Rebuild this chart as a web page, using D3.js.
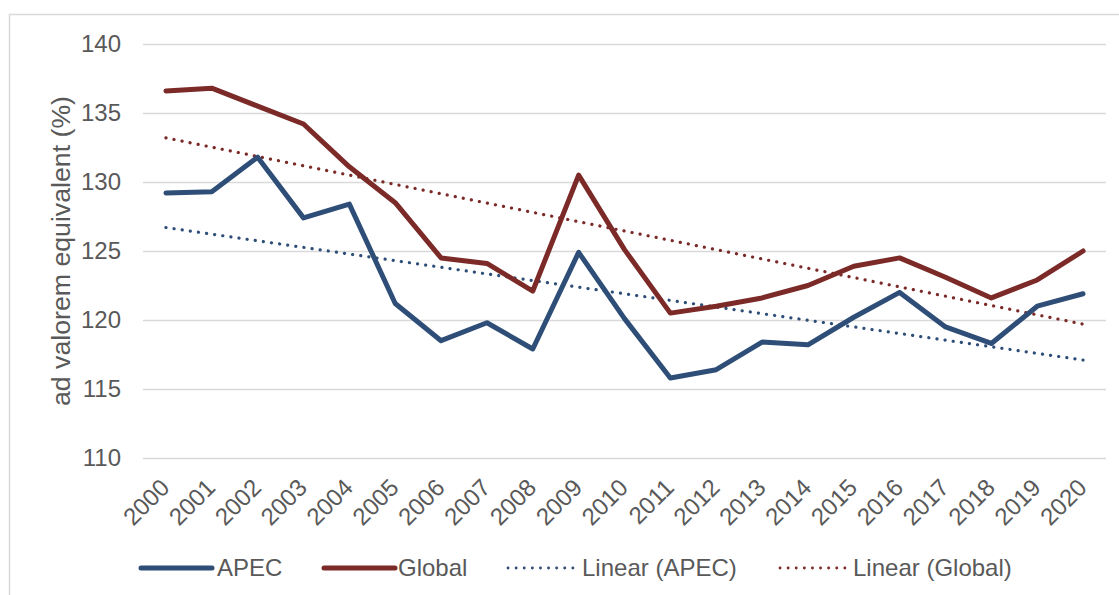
<!DOCTYPE html>
<html><head><meta charset="utf-8">
<script src="https://cdn.jsdelivr.net/npm/d3@7"></script>
<style>
html,body{margin:0;padding:0;background:#fff;}
svg{display:block;font-family:"Liberation Sans",Arial,sans-serif;}
</style></head>
<body><svg id="c" width="1119" height="595"></svg>
<script>
const years = ["2000","2001","2002","2003","2004","2005","2006","2007","2008","2009","2010","2011","2012","2013","2014","2015","2016","2017","2018","2019","2020"];
const apec = [129.2,129.3,131.8,127.4,128.4,121.2,118.5,119.8,117.9,124.9,120.1,115.8,116.4,118.4,118.2,120.2,122.0,119.5,118.3,121.0,121.9];
const global = [136.6,136.8,135.5,134.2,131.1,128.5,124.5,124.1,122.1,130.5,125.1,120.5,121.0,121.6,122.5,123.9,124.5,123.1,121.6,122.9,125.0];
// trendline end values (first year, last year)
const apecTrend = [126.7,117.1];
const globalTrend = [133.2,119.7];
const yTicks = [110,115,120,125,130,135,140];
const legendLabels = ["APEC","Global","Linear (APEC)","Linear (Global)"];

const svg = d3.select("#c");
const blue = "#2E4E77", red = "#7B2A28", txt = "#595959", grid = "#D9D9D9";
const pL = 143, pR = 1106, pT = 44, pB = 458;
const fam = "Liberation Sans, Arial, sans-serif";

svg.append("rect").attr("x",9.5).attr("y",14.5).attr("width",1130).attr("height",600)
  .attr("fill","none").attr("stroke",grid).attr("stroke-width",1.5);

const x = d3.scaleBand().domain(years).range([pL,pR]);
const y = d3.scaleLinear().domain([110,140]).range([pB,pT]);
const cx = d => x(d)+x.bandwidth()/2;

// grid
const ya = d3.axisLeft(y).tickValues(yTicks).tickSize(-(pR-pL)).tickPadding(22);
const gy = svg.append("g").attr("transform",`translate(${pL},0)`).call(ya);
gy.select(".domain").remove();
gy.selectAll(".tick line").attr("stroke",grid).attr("stroke-width",1.5);
gy.selectAll(".tick text").attr("fill",txt).attr("font-size",24).attr("font-family",fam);

// x axis labels
const xa = d3.axisBottom(x).tickSize(0).tickPadding(0);
const gx = svg.append("g").attr("transform",`translate(0,${pB})`).call(xa);
gx.select(".domain").remove();
gx.selectAll(".tick text").attr("fill",txt).attr("font-size",24)
  .attr("font-family",fam)
  .attr("text-anchor","end").attr("dy",0).attr("y",0)
  .attr("transform","translate(5,31) rotate(-45)");

// y title
svg.append("text").attr("transform","translate(70,251) rotate(-90)")
  .attr("text-anchor","middle").attr("fill",txt).attr("font-size",26.7)
  .text("ad valorem equivalent (%)");

const line = d3.line().x((d,i)=>cx(years[i])).y(d=>y(d));
const trendYears = [years[0], years[years.length-1]];
const tline = d3.line().x((d,i)=>cx(trendYears[i])).y(d=>y(d));

svg.append("path").datum(apecTrend).attr("d",tline).attr("fill","none").attr("stroke",blue)
  .attr("stroke-width",3.2).attr("stroke-linecap","round").attr("stroke-dasharray","0.1 8.1");
svg.append("path").datum(globalTrend).attr("d",tline).attr("fill","none").attr("stroke",red)
  .attr("stroke-width",3.2).attr("stroke-linecap","round").attr("stroke-dasharray","0.1 8.1");
svg.append("path").datum(apec).attr("d",line).attr("fill","none").attr("stroke",blue)
  .attr("stroke-width",5).attr("stroke-linejoin","round").attr("stroke-linecap","round");
svg.append("path").datum(global).attr("d",line).attr("fill","none").attr("stroke",red)
  .attr("stroke-width",5).attr("stroke-linejoin","round").attr("stroke-linecap","round");

// legend
const lg = [
  {l:legendLabels[0], c:blue, dash:null, x0:141, x1:212, tx:217},
  {l:legendLabels[1], c:red, dash:null, x0:324, x1:395, tx:398},
  {l:legendLabels[2], c:blue, dash:"0.1 8", x0:508, x1:578, tx:582},
  {l:legendLabels[3], c:red, dash:"0.1 8", x0:780, x1:850, tx:853}
];
const ly = 568;
lg.forEach(d=>{
  const p = svg.append("line").attr("x1",d.x0).attr("x2",d.x1).attr("y1",ly).attr("y2",ly)
    .attr("stroke",d.c).attr("stroke-linecap","round");
  if(d.dash){ p.attr("stroke-width",2.8).attr("stroke-dasharray",d.dash); }
  else { p.attr("stroke-width",5); }
  svg.append("text").attr("x",d.tx).attr("y",ly).attr("dy","0.35em")
    .attr("fill",txt).attr("font-size",24).attr("font-family",fam).text(d.l);
});
</script></body></html>
